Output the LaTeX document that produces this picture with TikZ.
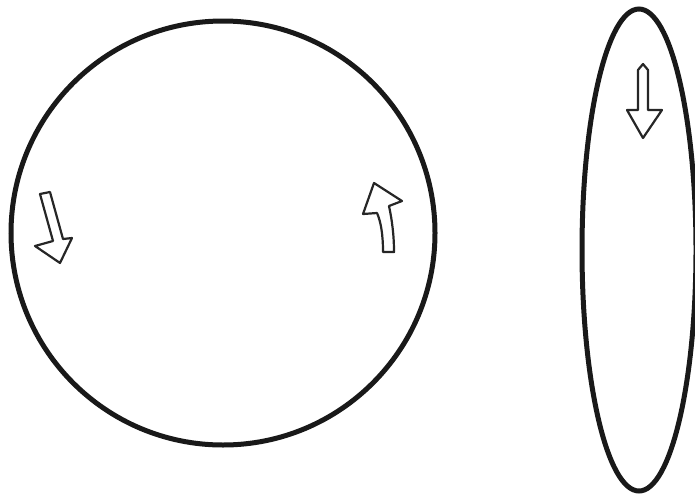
\documentclass[tikz,border=0pt]{standalone}
\tikzset{
  ring/.style={line width=5pt, draw=black!90},
  hollowarrow/.style={line width=2.2pt, draw=black!85, line join=round, fill=white}
}
\begin{document}
\begin{tikzpicture}[x=1pt,y=-1pt]
\useasboundingbox (0,0) rectangle (695,498);
% large circle
\draw[ring] (223,233) circle[radius=212];
% narrow ellipse
\draw[ring] (639,250) ellipse[x radius=57, y radius=241];
% left arrow (pointing down)
\draw[hollowarrow] (40,194) -- (50,192) -- (63,239) -- (72,238) -- (60,263) -- (35,246) -- (53,241) -- cycle;
% right arrow (curved, pointing up)
\draw[hollowarrow] (383,252) .. controls (383,235) and (381,222) .. (377,213)
  -- (363,214) -- (374,183) -- (402,201) -- (389,206)
  .. controls (392,220) and (394,235) .. (394,252) -- cycle;
% ellipse arrow (pointing down)
\draw[hollowarrow] (638,70) -- (643,64) -- (648,70) -- (648,110) -- (662,110) -- (643,138) -- (627,110) -- (638,110) -- cycle;
\end{tikzpicture}
\end{document}
